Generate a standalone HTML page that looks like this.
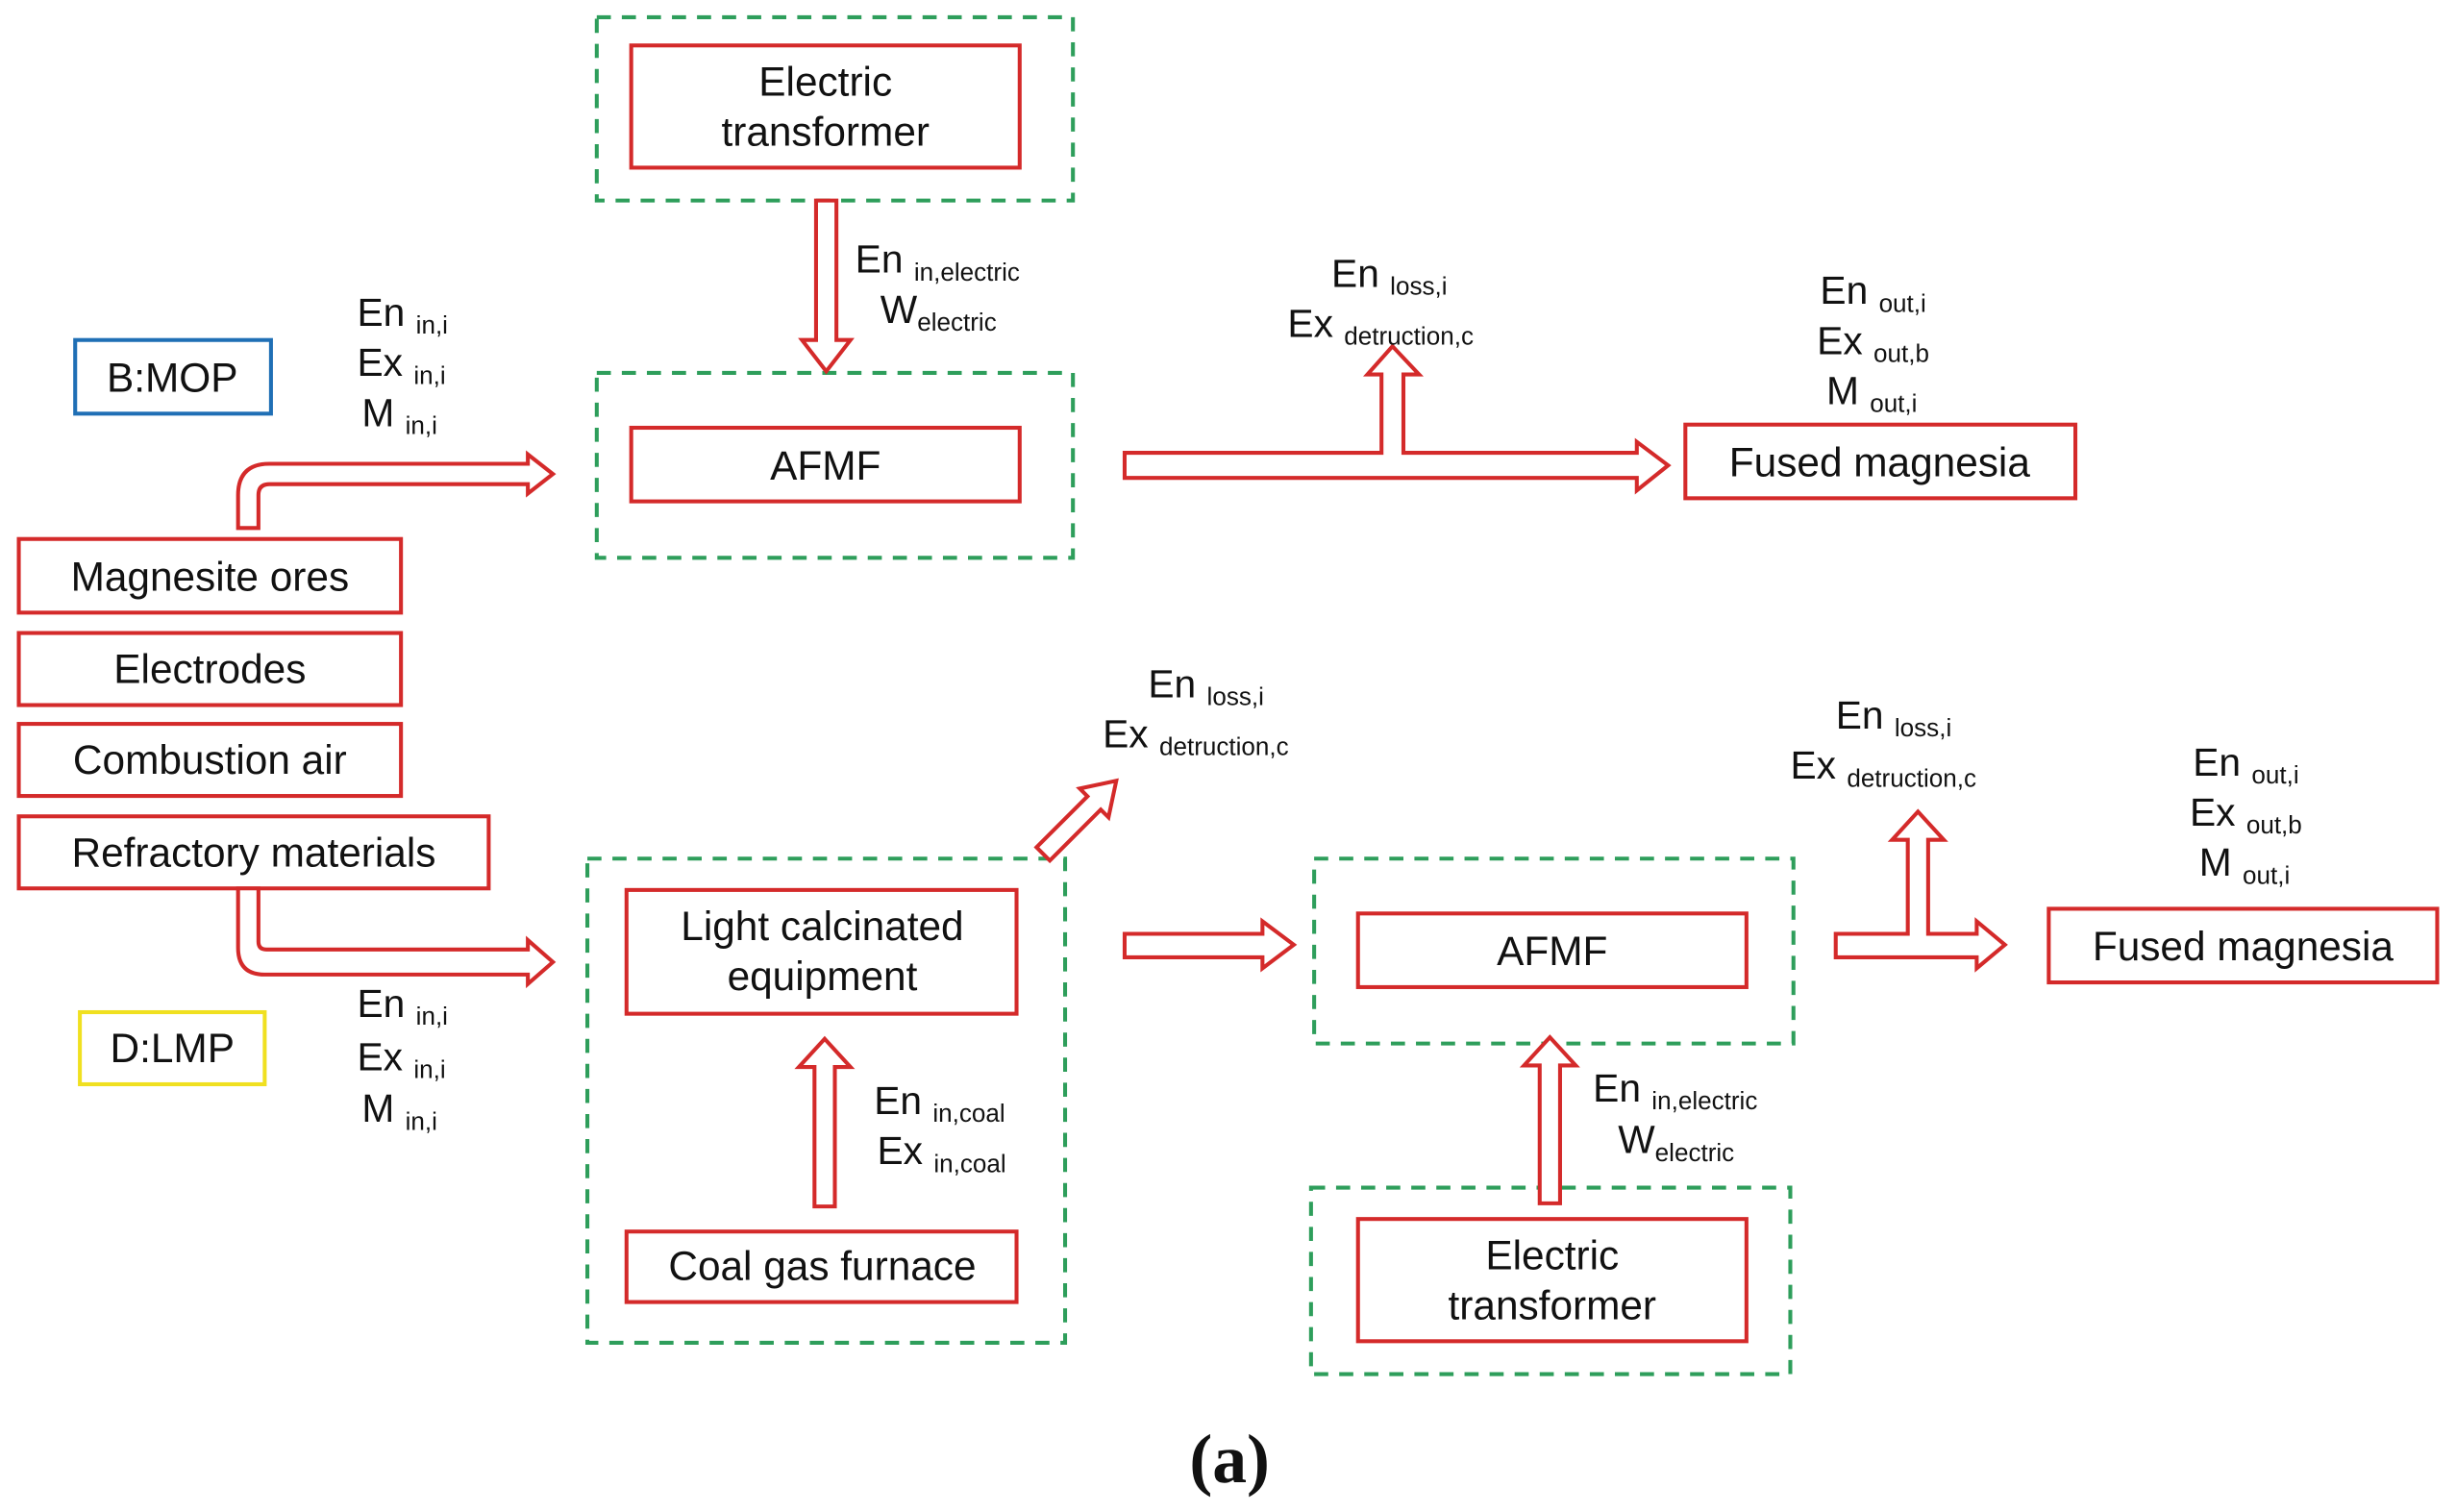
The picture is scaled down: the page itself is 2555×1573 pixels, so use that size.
<!DOCTYPE html>
<html><head><meta charset="utf-8"><style>
html,body{margin:0;padding:0;background:#fff;}
svg{display:block;}
text{font-family:"Liberation Sans",sans-serif;fill:#111;}
.t{font-size:26px;text-anchor:middle;}
.l{font-size:25px;}
.s{font-size:16px;}
</style></head><body>
<svg width="2555" height="1573" viewBox="0 0 1568 965" preserveAspectRatio="none" xmlns="http://www.w3.org/2000/svg">
<g fill="none" stroke="#2e9e5b" stroke-width="2.5" stroke-dasharray="9,7">
<rect x="381" y="11" width="304" height="117"/>
<rect x="381" y="238" width="304" height="118"/>
<rect x="375" y="548" width="305" height="309"/>
<rect x="839" y="548" width="306" height="118"/>
<rect x="837" y="758" width="306" height="119"/>
</g>
<g fill="#fff" stroke="#d42a2a" stroke-width="2.5">
<rect x="403" y="29" width="248" height="78"/>
<rect x="403" y="273" width="248" height="47"/>
<rect x="12" y="344" width="244" height="47"/>
<rect x="12" y="404" width="244" height="46"/>
<rect x="12" y="462" width="244" height="46"/>
<rect x="12" y="521" width="300" height="46"/>
<rect x="1076" y="271" width="249" height="47"/>
<rect x="400" y="568" width="249" height="79"/>
<rect x="400" y="786" width="249" height="45"/>
<rect x="867" y="583" width="248" height="47"/>
<rect x="867" y="778" width="248" height="78"/>
<rect x="1308" y="580" width="248" height="47"/>
<!-- arrows -->
<polygon points="521,128 534,128 534,217 543,217 527.5,237 512,217 521,217"/>
<path d="M152,337 L152,316 Q152,296 172,296 L337,296 L337,290 L353,302.5 L337,315 L337,309 L172,309 Q165,309 165,316 L165,337 Z"/>
<polygon points="718,289 882,289 882,239 873,239 889,221 906,239 896,239 896,289 1045,289 1045,282 1065,297 1045,313 1045,305 718,305"/>
<path d="M152,567 L152,605 Q152,622 169,622 L337,622 L337,628 L353,614 L337,600 L337,606 L170,606 Q165,606 165,601 L165,567 Z"/>
<polygon transform="translate(666,545) rotate(-45)" points="0,-6 46,-6 46,-13 66,0 46,13 46,6 0,6"/>
<polygon points="718,596 806,596 806,588 826,603 806,618 806,611 718,611"/>
<polygon points="520,770 533,770 533,681 543,681 526.5,663 510,681 520,681"/>
<polygon points="983,768 996,768 996,680 1006,680 989.5,662 973,680 983,680"/>
<polygon points="1172,596 1218,596 1218,536 1208,536 1224.5,518 1241,536 1231,536 1231,596 1262,596 1262,588 1280,603 1262,618 1262,611 1172,611"/>
</g>
<rect x="48" y="217" width="125" height="47" fill="none" stroke="#1f6fb5" stroke-width="2.5"/>
<rect x="51" y="646" width="118" height="46" fill="none" stroke="#f0e020" stroke-width="2.5"/>

<text class="t" x="527" y="61">Electric</text>
<text class="t" x="527" y="93">transformer</text>
<text class="t" x="527" y="306">AFMF</text>
<text class="t" x="110" y="250">B:MOP</text>
<text class="t" x="134" y="377">Magnesite ores</text>
<text class="t" x="134" y="436">Electrodes</text>
<text class="t" x="134" y="494">Combustion air</text>
<text class="t" x="162" y="553">Refractory materials</text>
<text class="t" x="1200" y="304">Fused magnesia</text>
<text class="t" x="110" y="678">D:LMP</text>
<text class="t" x="525" y="600">Light calcinated</text>
<text class="t" x="525" y="632">equipment</text>
<text class="t" x="525" y="817">Coal gas furnace</text>
<text class="t" x="991" y="616">AFMF</text>
<text class="t" x="991" y="810">Electric</text>
<text class="t" x="991" y="842">transformer</text>
<text class="t" x="1432" y="613">Fused magnesia</text>

<text class="l" x="546" y="174">En <tspan class="s" dy="5">in,electric</tspan></text>
<text class="l" x="562" y="206">W<tspan class="s" dy="5">electric</tspan></text>
<text class="l" x="228" y="208">En <tspan class="s" dy="5">in,i</tspan></text>
<text class="l" x="228" y="240">Ex <tspan class="s" dy="5">in,i</tspan></text>
<text class="l" x="231" y="272">M <tspan class="s" dy="5">in,i</tspan></text>
<text class="l" x="850" y="183">En <tspan class="s" dy="5">loss,i</tspan></text>
<text class="l" x="822" y="215">Ex <tspan class="s" dy="5">detruction,c</tspan></text>
<text class="l" x="1162" y="194">En <tspan class="s" dy="5">out,i</tspan></text>
<text class="l" x="1160" y="226">Ex <tspan class="s" dy="5">out,b</tspan></text>
<text class="l" x="1166" y="258">M <tspan class="s" dy="5">out,i</tspan></text>
<text class="l" x="228" y="649">En <tspan class="s" dy="5">in,i</tspan></text>
<text class="l" x="228" y="683">Ex <tspan class="s" dy="5">in,i</tspan></text>
<text class="l" x="231" y="716">M <tspan class="s" dy="5">in,i</tspan></text>
<text class="l" x="733" y="445">En <tspan class="s" dy="5">loss,i</tspan></text>
<text class="l" x="704" y="477">Ex <tspan class="s" dy="5">detruction,c</tspan></text>
<text class="l" x="558" y="711">En <tspan class="s" dy="5">in,coal</tspan></text>
<text class="l" x="560" y="743">Ex <tspan class="s" dy="5">in,coal</tspan></text>
<text class="l" x="1017" y="703">En <tspan class="s" dy="5">in,electric</tspan></text>
<text class="l" x="1033" y="736">W<tspan class="s" dy="5">electric</tspan></text>
<text class="l" x="1172" y="465">En <tspan class="s" dy="5">loss,i</tspan></text>
<text class="l" x="1143" y="497">Ex <tspan class="s" dy="5">detruction,c</tspan></text>
<text class="l" x="1400" y="495">En <tspan class="s" dy="5">out,i</tspan></text>
<text class="l" x="1398" y="527">Ex <tspan class="s" dy="5">out,b</tspan></text>
<text class="l" x="1404" y="559">M <tspan class="s" dy="5">out,i</tspan></text>

<text x="785" y="946" style="font-family:'Liberation Serif',serif;font-size:44px;font-weight:bold;text-anchor:middle;">(a)</text>
</svg>
</body></html>
